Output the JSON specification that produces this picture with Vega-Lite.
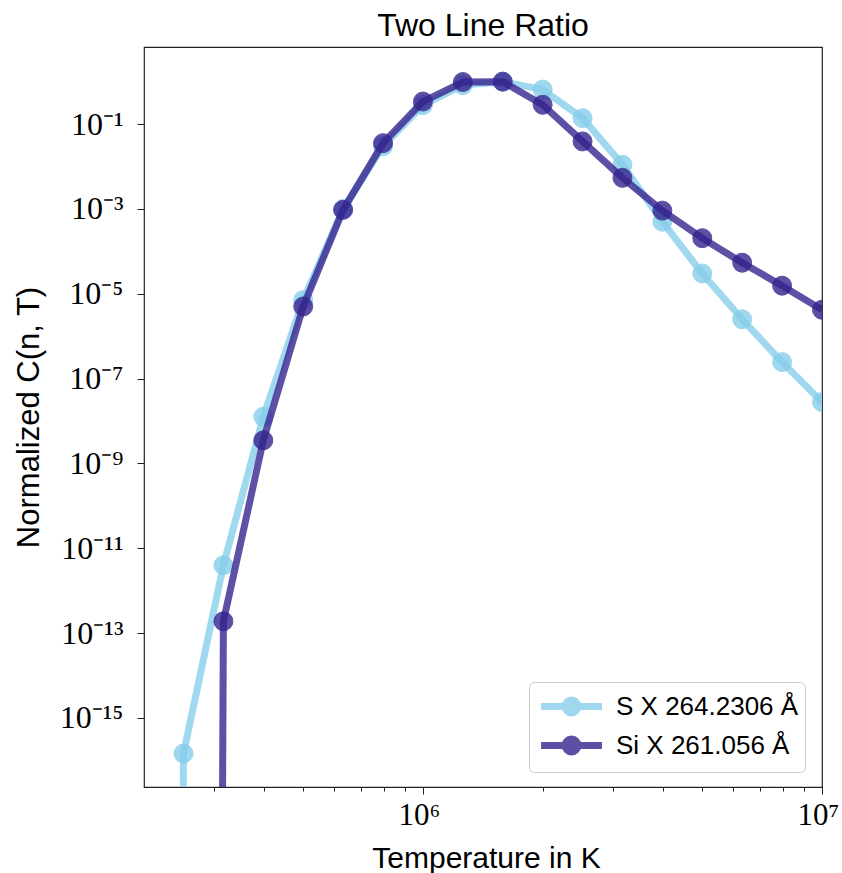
{
  "$schema": "https://vega.github.io/schema/vega-lite/v6.json",
  "width": 678,
  "height": 740,
  "autosize": {"type": "none"},
  "padding": {"left": 144, "top": 47, "right": 20, "bottom": 86},
  "background": "white",
  "title": {"text": "Two Line Ratio", "fontSize": 32, "font": "Liberation Sans", "fontWeight": "normal", "offset": 4, "color": "black"},
  "config": {
    "view": {"stroke": "#222222", "strokeWidth": 1.2},
    "axis": {"grid": false, "domain": false, "tickColor": "#222222", "labelColor": "black", "titleColor": "black"}
  },
  "data": {"values": [
    {"T": 199526, "C": 1e-200, "line": "S X 264.2306 Å"},
    {"T": 251189, "C": 1.45e-16, "line": "S X 264.2306 Å"},
    {"T": 316228, "C": 3.98e-12, "line": "S X 264.2306 Å"},
    {"T": 398107, "C": 1.26e-8, "line": "S X 264.2306 Å"},
    {"T": 501187, "C": 7.1e-6, "line": "S X 264.2306 Å"},
    {"T": 630957, "C": 1.0e-3, "line": "S X 264.2306 Å"},
    {"T": 794328, "C": 3.0e-2, "line": "S X 264.2306 Å"},
    {"T": 1000000, "C": 0.28, "line": "S X 264.2306 Å"},
    {"T": 1258925, "C": 0.83, "line": "S X 264.2306 Å"},
    {"T": 1584893, "C": 1.0, "line": "S X 264.2306 Å"},
    {"T": 1995262, "C": 0.65, "line": "S X 264.2306 Å"},
    {"T": 2511886, "C": 0.138, "line": "S X 264.2306 Å"},
    {"T": 3162278, "C": 0.011, "line": "S X 264.2306 Å"},
    {"T": 3981072, "C": 5.0e-4, "line": "S X 264.2306 Å"},
    {"T": 5011872, "C": 3.0e-5, "line": "S X 264.2306 Å"},
    {"T": 6309573, "C": 2.5e-6, "line": "S X 264.2306 Å"},
    {"T": 7943282, "C": 2.45e-7, "line": "S X 264.2306 Å"},
    {"T": 10000000, "C": 2.8e-8, "line": "S X 264.2306 Å"},
    {"T": 199526, "C": 1e-200, "line": "Si X 261.056 Å"},
    {"T": 251189, "C": 1e-200, "line": "Si X 261.056 Å"},
    {"T": 316228, "C": 1.9e-13, "line": "Si X 261.056 Å"},
    {"T": 398107, "C": 3.5e-9, "line": "Si X 261.056 Å"},
    {"T": 501187, "C": 5.0e-6, "line": "Si X 261.056 Å"},
    {"T": 630957, "C": 9.5e-4, "line": "Si X 261.056 Å"},
    {"T": 794328, "C": 0.0355, "line": "Si X 261.056 Å"},
    {"T": 1000000, "C": 0.34, "line": "Si X 261.056 Å"},
    {"T": 1258925, "C": 0.98, "line": "Si X 261.056 Å"},
    {"T": 1584893, "C": 1.0, "line": "Si X 261.056 Å"},
    {"T": 1995262, "C": 0.285, "line": "Si X 261.056 Å"},
    {"T": 2511886, "C": 0.039, "line": "Si X 261.056 Å"},
    {"T": 3162278, "C": 5.4e-3, "line": "Si X 261.056 Å"},
    {"T": 3981072, "C": 9.1e-4, "line": "Si X 261.056 Å"},
    {"T": 5011872, "C": 2.04e-4, "line": "Si X 261.056 Å"},
    {"T": 6309573, "C": 5.4e-5, "line": "Si X 261.056 Å"},
    {"T": 7943282, "C": 1.55e-5, "line": "Si X 261.056 Å"},
    {"T": 10000000, "C": 4.2e-6, "line": "Si X 261.056 Å"}
  ]},
  "encoding": {
    "color": {
      "field": "line", "type": "nominal",
      "scale": {"domain": ["S X 264.2306 Å", "Si X 261.056 Å"], "range": ["#87CEEB", "#34248e"]},
      "legend": {
        "title": null, "orient": "none", "legendX": 385, "legendY": 635,
        "labelFont": "Liberation Sans", "labelFontSize": 26, "labelColor": "black", "labelLimit": 400,
        "symbolType": "M-2.03,0L2.03,0M-0.43,0A0.43,0.43,0,1,1,0.43,0A0.43,0.43,0,1,1,-0.43,0Z",
        "symbolSize": 900, "symbolStrokeWidth": 7, "symbolOffset": 18, "labelOffset": 26,
        "rowPadding": -3, "padding": 6, "strokeColor": "#cccccc", "fillColor": "white", "cornerRadius": 5,
        "encode": {"symbols": {"update": {
          "fill": {"scale": "color", "field": "value"},
          "stroke": {"scale": "color", "field": "value"},
          "fillOpacity": {"value": 0.8},
          "strokeOpacity": {"value": 0.8},
          "strokeWidth": {"value": 7}
        }}}
      }
    }
  },
  "resolve": {"axis": {"x": "independent", "y": "independent"}},
  "layer": [
    {
      "transform": [{"filter": "datum.line === 'S X 264.2306 Å'"}],
      "mark": {"type": "line", "strokeWidth": 7, "opacity": 0.8, "clip": true, "strokeJoin": "round"},
      "encoding": {
        "x": {"field": "T", "type": "quantitative", "scale": {"type": "log", "domain": [200000, 10000000], "nice": false},
          "axis": {"orient": "bottom", "values": [1000000, 10000000], "labelExpr": "datum.value > 5000000 ? '10⁷' : '10⁶'",
            "labelFont": "Liberation Serif", "labelFontSize": 31, "labelBaseline": "alphabetic", "labelPadding": 30, "labelOffset": -4, "tickSize": 7, "labelFlush": false, "labelOverlap": false,
            "title": "Temperature in K", "titleFont": "Liberation Sans", "titleFontSize": 30, "titleFontWeight": "normal",
            "titleBaseline": "alphabetic", "titleX": 342, "titleY": 80, "titleAnchor": "middle"}},
        "y": {"field": "C", "type": "quantitative", "scale": {"type": "log", "domain": [2.355e-17, 6.56], "nice": false},
          "axis": {"orient": "left", "values": [1e-15, 1e-13, 1e-11, 1e-9, 1e-7, 1e-5, 1e-3, 1e-1],
            "labelExpr": "datum.value > 0.01 ? '10⁻¹' : datum.value > 1e-4 ? '10⁻³' : datum.value > 1e-6 ? '10⁻⁵' : datum.value > 1e-8 ? '10⁻⁷' : datum.value > 1e-10 ? '10⁻⁹' : datum.value > 1e-12 ? '10⁻¹¹' : datum.value > 1e-14 ? '10⁻¹³' : '10⁻¹⁵'",
            "labelFont": "Liberation Serif", "labelFontSize": 32, "labelPadding": 14, "tickSize": 7, "labelOverlap": false, "labelFlush": false,
            "title": "Normalized C(n, T)", "titleFont": "Liberation Sans", "titleFontSize": 31, "titleFontWeight": "normal",
            "titleBaseline": "alphabetic", "titleX": -106, "titleY": 370, "titleAnchor": "middle", "titleAngle": -90}}
      }
    },
    {
      "transform": [{"filter": "datum.line === 'S X 264.2306 Å'"}],
      "mark": {"type": "point", "filled": true, "size": 360, "opacity": 0.8, "stroke": "#87CEEB", "strokeWidth": 1, "clip": true},
      "encoding": {
        "x": {"field": "T", "type": "quantitative", "scale": {"type": "log", "domain": [200000, 10000000], "nice": false},
          "axis": {"orient": "bottom", "values": [300000, 400000, 500000, 600000, 700000, 800000, 900000, 2000000, 3000000, 4000000, 5000000, 6000000, 7000000, 8000000, 9000000],
            "labels": false, "tickSize": 4, "title": null}},
        "y": {"field": "C", "type": "quantitative", "scale": {"type": "log", "domain": [2.355e-17, 6.56], "nice": false}, "axis": null}
      }
    },
    {
      "transform": [{"filter": "datum.line === 'Si X 261.056 Å'"}],
      "mark": {"type": "line", "strokeWidth": 7, "opacity": 0.8, "clip": true, "strokeJoin": "round"},
      "encoding": {
        "x": {"field": "T", "type": "quantitative", "scale": {"type": "log", "domain": [200000, 10000000], "nice": false}, "axis": null},
        "y": {"field": "C", "type": "quantitative", "scale": {"type": "log", "domain": [2.355e-17, 6.56], "nice": false}, "axis": null}
      }
    },
    {
      "transform": [{"filter": "datum.line === 'Si X 261.056 Å'"}],
      "mark": {"type": "point", "filled": true, "size": 360, "opacity": 0.8, "stroke": "#34248e", "strokeWidth": 1, "clip": true},
      "encoding": {
        "x": {"field": "T", "type": "quantitative", "scale": {"type": "log", "domain": [200000, 10000000], "nice": false}, "axis": null},
        "y": {"field": "C", "type": "quantitative", "scale": {"type": "log", "domain": [2.355e-17, 6.56], "nice": false}, "axis": null}
      }
    }
  ]
}
